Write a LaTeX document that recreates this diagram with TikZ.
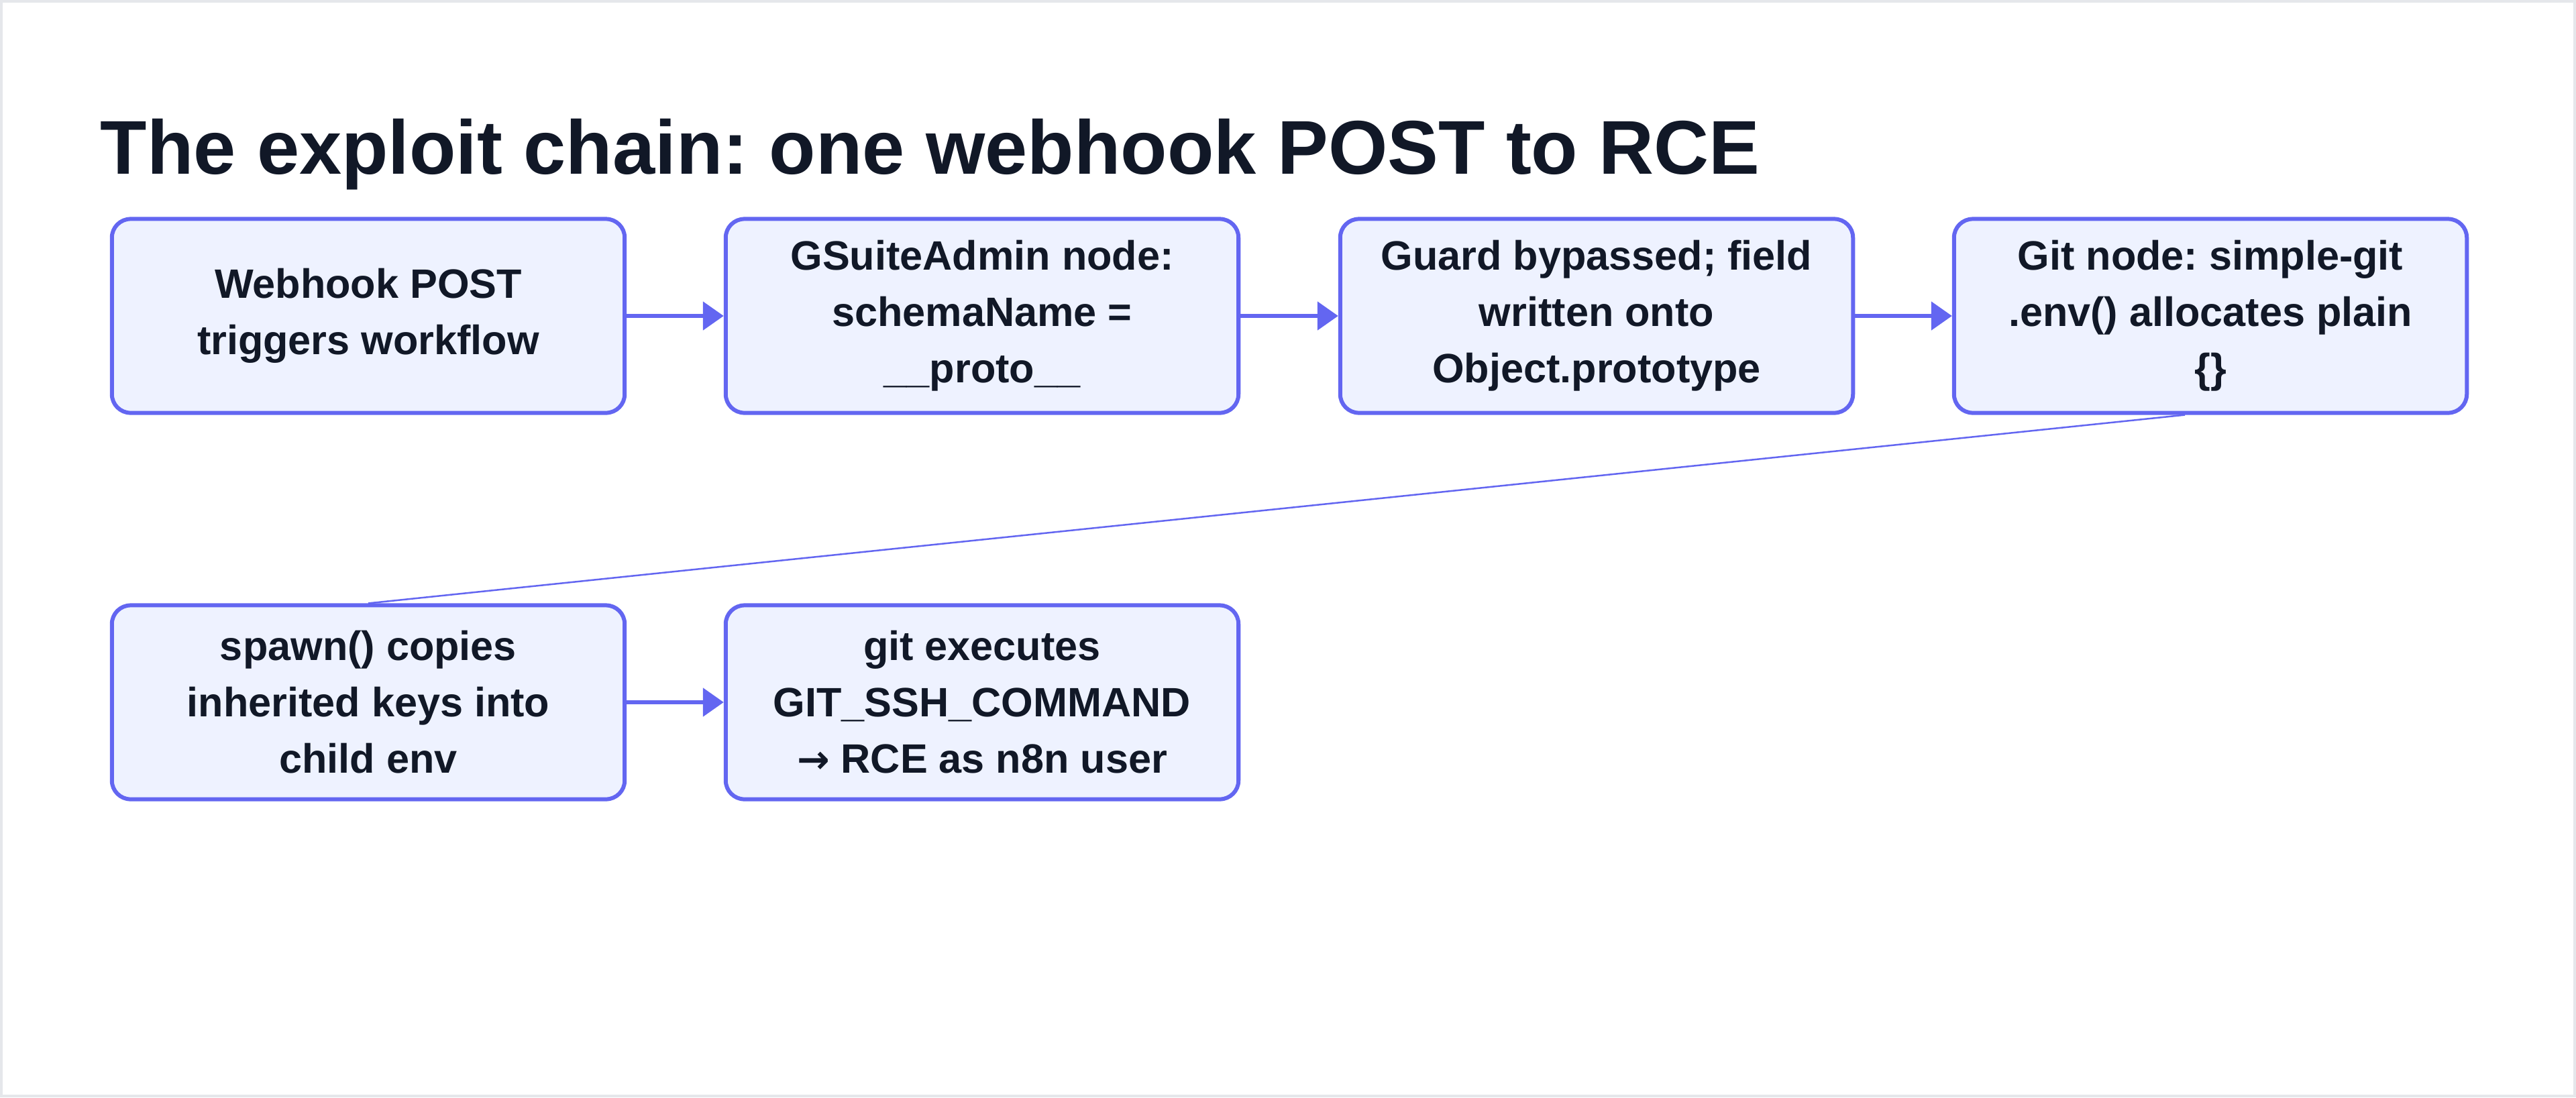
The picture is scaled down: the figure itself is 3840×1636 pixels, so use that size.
\documentclass[tikz,border=0pt]{standalone}
\usepackage{fontspec}
\setmainfont{Liberation Sans}
\newfontfamily\arrowfont{DejaVu Sans}[Scale=0.95]
\frenchspacing
\usetikzlibrary{arrows.meta,calc}
\definecolor{edgeblue}{HTML}{6366F1}
\definecolor{boxfill}{HTML}{EEF2FF}
\definecolor{inkdark}{HTML}{111827}
\definecolor{framegray}{HTML}{E5E7EB}
\tikzset{
  stepbox/.style={draw=edgeblue, fill=boxfill, line width=0.06cm, rounded corners=0.28cm,
    minimum width=7.64cm, minimum height=2.89cm, inner sep=0pt, align=center,
    text=inkdark, font=\bfseries\fontsize{17.4}{23.9}\selectfont},
  flow/.style={draw=edgeblue, line width=0.055cm, -{Triangle[length=0.31cm,width=0.42cm]}},
  thinlink/.style={draw=edgeblue, line width=0.025cm},
  titletext/.style={text=inkdark, font=\bfseries\fontsize{32.3}{38}\selectfont, inner sep=0pt, anchor=base west}
}
\begin{document}
\begin{tikzpicture}[x=0.01cm, y=-0.01cm]
\useasboundingbox (0,0) rectangle (3840,1636);
\fill[white] (0,0) rectangle (3840,1636);
\draw[framegray, line width=0.04cm] (2,2) rectangle (3838,1634);
\node[titletext] (title) at (149,259) {The exploit chain: one webhook POST to RCE};
\node[stepbox] (b1) at (549,471) {Webhook POST\\triggers workflow};
\node[stepbox] (b2) at (1464,471) {GSuiteAdmin node:\\schemaName =\\\_\_proto\_\_};
\node[stepbox] (b3) at (2380,471) {Guard bypassed; field\\written onto\\Object.prototype};
\node[stepbox] (b4) at (3295,471) {Git node: simple-git\\.env() allocates plain\\\{\}};
\node[stepbox] (b5) at (549,1047) {spawn() copies\\inherited keys into\\child env};
\node[stepbox] (b6) at (1464,1047) {git executes\\GIT\_SSH\_COMMAND\\{\arrowfont\bfseries →} RCE as n8n user};
\draw[flow] (b1) -- (b2);
\draw[flow] (b2) -- (b3);
\draw[flow] (b3) -- (b4);
\draw[thinlink] ($(b4.south)+(-38,0)$) -- (b5.north);
\draw[flow] (b5) -- (b6);
\end{tikzpicture}
\end{document}
